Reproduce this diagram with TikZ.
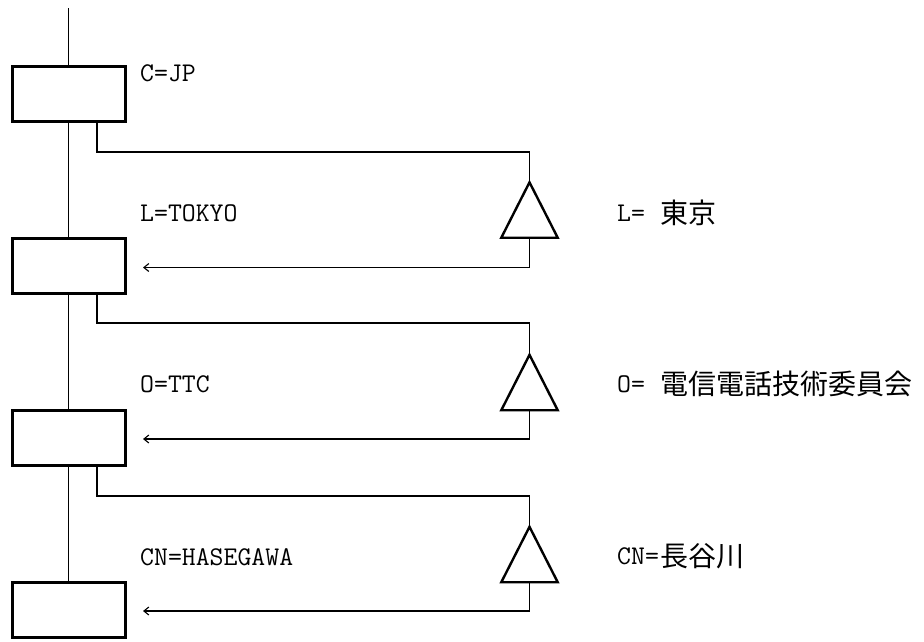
\documentclass[tikz,border=0pt]{standalone}
\usepackage{fontspec}
\usetikzlibrary{arrows.meta,calc}
\newfontfamily\latf{Latin Modern Mono}
\newfontfamily\jpf{Noto Sans CJK JP}
\begin{document}
\begin{tikzpicture}[x=1pt,y=-1pt,
  dirbox/.style={draw,line width=2.6pt,minimum width=113.4pt,minimum height=55.4pt,inner sep=0pt},
  trihelp/.style={minimum width=56pt,minimum height=55pt,inner sep=0pt},
  tri/.style={draw,line width=2.4pt,line join=miter},
  conn/.style={draw,line width=1.1pt},
  arr/.style={conn,-{Straight Barb[length=5pt,width=8pt,line width=1.1pt]}},
  lbl/.style={anchor=west,inner sep=0pt,font=\latf\fontsize{27}{30}\selectfont},
  jlbl/.style={anchor=west,inner sep=0pt,font=\jpf\fontsize{28}{32}\selectfont}]
\useasboundingbox (0,0) rectangle (924,641);
% directory boxes
\node[dirbox] (b1) at (69,94) {};
\node[dirbox] (b2) at (69,266) {};
\node[dirbox] (b3) at (69,438) {};
\node[dirbox] (b4) at (69,610) {};
% main line
\coordinate (top) at (68.5,8);
\draw[conn] (top) -- (top |- b1.north);
\draw[conn] (b1.south -| top) -- (b2.north -| top);
\draw[conn] (b2.south -| top) -- (b3.north -| top);
\draw[conn] (b3.south -| top) -- (b4.north -| top);
% triangles
\node[trihelp] (t1) at (529.5,210) {};
\node[trihelp] (t2) at (529.5,382.5) {};
\node[trihelp] (t3) at (529.5,554.5) {};
\foreach \t in {t1,t2,t3}{
  \draw[tri] (\t.south west) -- (\t.north) -- (\t.south east) -- cycle;
}
% outgoing connectors
\coordinate (k1) at (529.5,152);
\coordinate (k2) at (529.5,323);
\coordinate (k3) at (529.5,496);
\draw[conn] ([xshift=28pt]b1.south) |- (k1) -- (t1.north);
\draw[conn] ([xshift=28pt]b2.south) |- (k2) -- (t2.north);
\draw[conn] ([xshift=28pt]b3.south) |- (k3) -- (t3.north);
% returning arrows
\draw[arr] (t1.south) |- ([xshift=16pt,yshift=-1.5pt]b2.east);
\draw[arr] (t2.south) |- ([xshift=16pt,yshift=-1pt]b3.east);
\draw[arr] (t3.south) |- ([xshift=16pt,yshift=-1pt]b4.east);
% labels left
\node[lbl] (lc) at (140,73) {C=JP};
\node[lbl] (ll) at (140,213) {L=TOKYO};
\node[lbl] (lo) at (140,384) {O=TTC};
\node[lbl] (lcn) at (140,557) {CN=HASEGAWA};
% labels right
\node[lbl] (rl) at (617,213) {L=};
\node[jlbl] (rlj) at (660,213) {東京};
\node[lbl] (ro) at (617,384) {O=};
\node[jlbl] (roj) at (660,384) {電信電話技術委員会};
\node[lbl] (rcn) at (617,556) {CN=};
\node[jlbl] (rcnj) at (660,556) {長谷川};
\end{tikzpicture}
\end{document}
